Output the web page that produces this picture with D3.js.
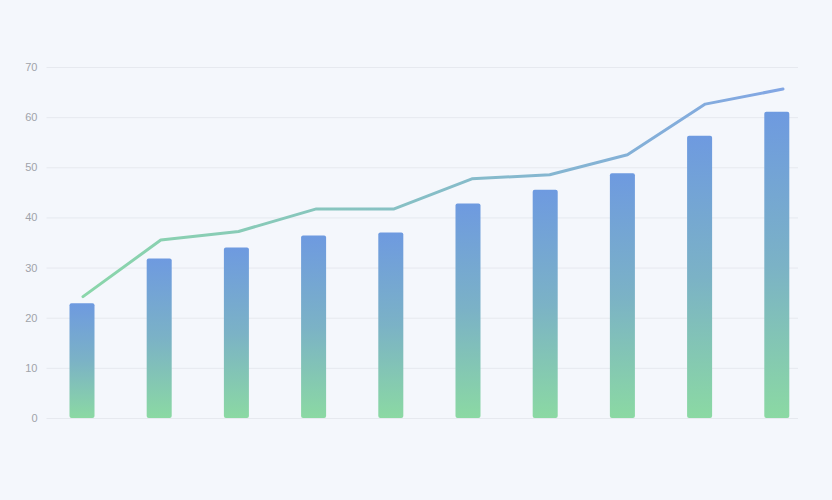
<!DOCTYPE html>
<html><head><meta charset="utf-8">
<script src="https://cdn.jsdelivr.net/npm/d3@7"></script>
<style>
html,body{margin:0;padding:0;background:#f4f7fc;}
svg{display:block;font-family:"Open Sans","DejaVu Sans",sans-serif;}
</style></head>
<body><svg id="c" width="832" height="500"></svg>
<script>
const categories = ["1","2","3","4","5","6","7","8","9","10"];
const barValues = [22.9, 31.8, 34.0, 36.4, 37.0, 42.8, 45.5, 48.8, 56.3, 61.1];
const lineValues = [24.2, 35.5, 37.2, 41.7, 41.7, 47.7, 48.5, 52.5, 62.6, 65.6];
const yTicks = [0, 10, 20, 30, 40, 50, 60, 70];

const svg = d3.select("#c");
const y = d3.scaleLinear().domain([0, 70]).range([418, 67]);
const x = d3.scaleBand().domain(categories).range([43.4, 815.4]).paddingInner(0.676).paddingOuter(0.338);
const xl = d3.scalePoint().domain(categories).range([83, 783]);

const defs = svg.append("defs");
const bg = defs.append("linearGradient").attr("id","barG").attr("x1",0).attr("y1",0).attr("x2",0).attr("y2",1);
bg.append("stop").attr("offset","0%").attr("stop-color","#6e9ae0");
bg.append("stop").attr("offset","50%").attr("stop-color","#7bb2c6");
bg.append("stop").attr("offset","100%").attr("stop-color","#8bd9a3");
const lg = defs.append("linearGradient").attr("id","lineG").attr("gradientUnits","userSpaceOnUse")
  .attr("x1",83).attr("y1",0).attr("x2",783).attr("y2",0);
lg.append("stop").attr("offset","0%").attr("stop-color","#8ad6aa");
lg.append("stop").attr("offset","100%").attr("stop-color","#82a6e4");

// grid
const axis = d3.axisLeft(y).tickValues(yTicks).tickSize(-(798-46.5)).tickPadding(9);
const ga = svg.append("g").attr("transform","translate(46.5,0)").call(axis);
ga.select(".domain").remove();
ga.selectAll(".tick line").attr("stroke","#e6e9ef").attr("stroke-width",1);
ga.selectAll(".tick text").attr("fill","#a0a3aa").attr("font-size","11px");

// bars
svg.append("g").selectAll("rect").data(barValues).join("rect")
  .attr("x",(d,i)=>x(categories[i]))
  .attr("width",x.bandwidth())
  .attr("y",d=>y(d))
  .attr("height",d=>y(0)-y(d))
  .attr("rx",2)
  .attr("fill","url(#barG)");

// line
const line = d3.line().x((d,i)=>xl(categories[i])).y(d=>y(d));
svg.append("path").datum(lineValues)
  .attr("d",line)
  .attr("fill","none")
  .attr("stroke","url(#lineG)")
  .attr("stroke-width",3)
  .attr("stroke-linejoin","round")
  .attr("stroke-linecap","round");
</script>
</body></html>
